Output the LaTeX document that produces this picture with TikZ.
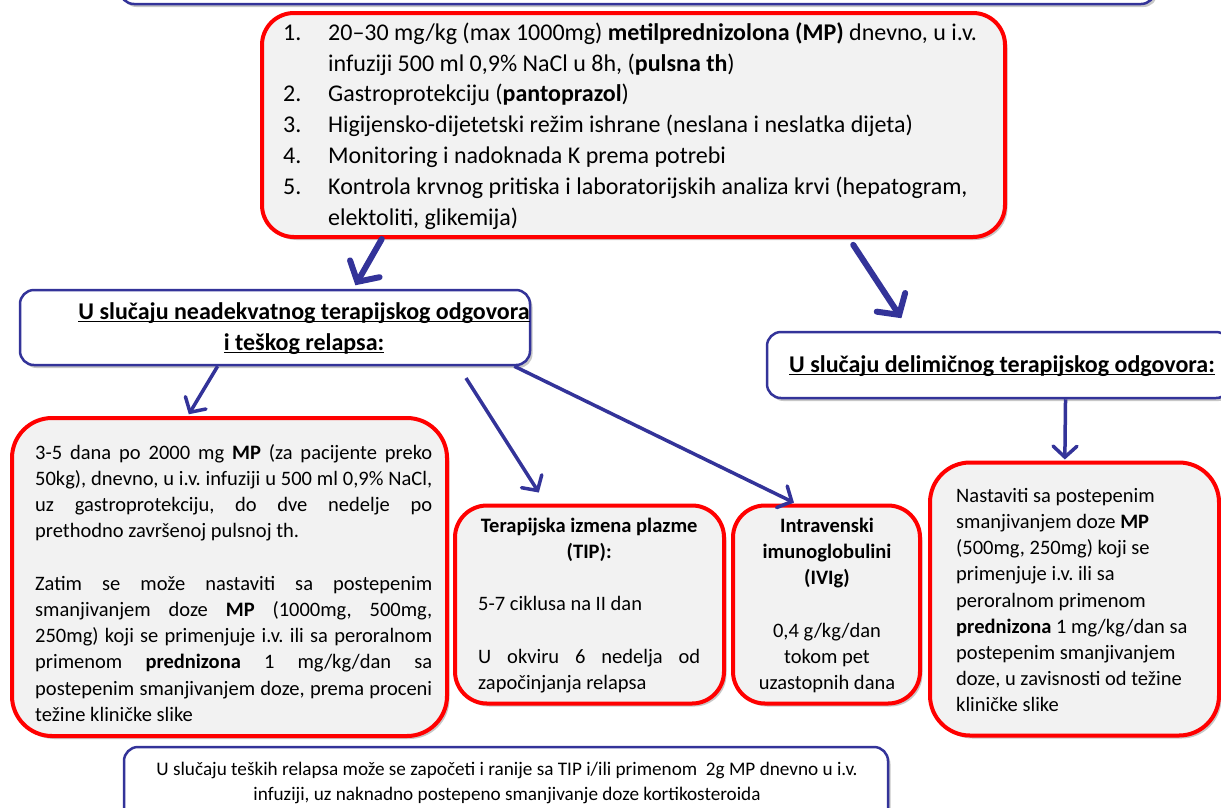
\documentclass[tikz,border=0pt]{standalone}
\usepackage{fontspec}
\setmainfont{Carlito}
\usetikzlibrary{arrows.meta,shadows,calc}
\definecolor{rd}{HTML}{FF0000}
\definecolor{bl}{HTML}{333399}
\definecolor{gf}{HTML}{F2F2F2}
\newsavebox\ulbox
\newcommand\ulx[1]{\leavevmode\sbox\ulbox{#1}\rlap{\rule[-3pt]{\wd\ulbox}{1.5pt}}\usebox\ulbox}
\newcommand\jl[1]{\makebox[\linewidth][s]{#1}\\}
\newcommand\fA{\fontsize{24}{30.8}\selectfont\frenchspacing}
\newcommand\fB{\fontsize{20.5}{26.2}\selectfont\frenchspacing}
\newcommand\fC{\fontsize{19.2}{25}\selectfont\frenchspacing}
\tikzset{
  shad/.style={drop shadow={shadow xshift=2.5pt, shadow yshift=-3pt, fill=black, opacity=0.22}},
  redbox/.style={draw=rd, line width=4pt, fill=gf, rounded corners=32pt, shad, inner sep=0pt},
  bluebox/.style={draw=bl, line width=2.5pt, fill=white, rounded corners=14pt, shad, inner sep=0pt},
  thickarr/.style={draw=bl, line width=6pt, line cap=round, -{Straight Barb[length=15pt,width=34pt,line cap=round]}},
  arr/.style={draw=bl, line width=3.5pt, -{Straight Barb[length=11pt,width=24pt,line cap=round]}},
  txt/.style={inner sep=0pt, anchor=north west, align=flush left},
}
\begin{document}
\begin{tikzpicture}[x=1pt,y=-1pt]
\useasboundingbox (0,0) rectangle (1221,807);
% boxes
\node[bluebox, minimum width=1035pt, minimum height=80pt] (hdr) at (637.5,-36) {};
\node[redbox, minimum width=743pt, minimum height=224pt] (top) at (633.5,125) {};
\node[bluebox, minimum width=510pt, minimum height=75pt] (lh) at (275,327.5) {};
\node[bluebox, minimum width=463pt, minimum height=66pt] (rh) at (998.5,365) {};
\node[redbox, rounded corners=40pt, minimum width=435pt, minimum height=318pt] (lb) at (229.5,577) {};
\node[redbox, minimum width=269pt, minimum height=198pt] (tb) at (589.5,604.5) {};
\node[redbox, minimum width=187pt, minimum height=198pt] (ib) at (826.5,604.5) {};
\node[redbox, rounded corners=40pt, minimum width=289pt, minimum height=273pt] (rb) at (1074.5,599) {};
\node[bluebox, minimum width=764pt, minimum height=76pt] (bb) at (506,785) {};
% texts
\node[txt, font=\fA, text width=720pt] (toptxt) at (283,18) {\rule{0pt}{22pt}%
\makebox[45pt][l]{1.}20–30 mg/kg (max 1000mg) \textbf{metilprednizolona (MP)} dnevno, u i.v.\\
\hspace*{45pt}infuziji 500 ml 0,9\% NaCl u 8h, (\textbf{pulsna th})\\
\makebox[45pt][l]{2.}Gastroprotekciju (\textbf{pantoprazol})\\
\makebox[45pt][l]{3.}Higijensko-dijetetski režim ishrane (neslana i neslatka dijeta)\\
\makebox[45pt][l]{4.}Monitoring i nadoknada K prema potrebi\\
\makebox[45pt][l]{5.}Kontrola krvnog pritiska i laboratorijskih analiza krvi (hepatogram,\\
\hspace*{45pt}elektoliti, glikemija)};
\node[inner sep=0pt, anchor=north, align=flush center, font=\fA, text width=480pt] (lhtxt) at (304,297) {\rule{0pt}{22pt}%
\ulx{\textbf{U slučaju neadekvatnog terapijskog odgovora}}\\
\ulx{\textbf{i teškog relapsa:}}};
\node[txt, font=\fA, text width=450pt] (rhtxt) at (789,350) {\rule{0pt}{22pt}%
\ulx{\textbf{U slučaju delimičnog terapijskog odgovora:}}};
\node[txt, font=\fB, text width=397pt] (lbtxt) at (35,440) {\rule{0pt}{19pt}%
\jl{3-5 dana po 2000 mg \textbf{MP} (za pacijente preko}
\jl{50kg), dnevno, u i.v. infuziji u 500 ml 0,9\% NaCl,}
\jl{uz gastroprotekciju, do dve nedelje po}
prethodno završenoj pulsnoj th.\\
\mbox{}\\
\jl{Zatim se može nastaviti sa postepenim}
\jl{smanjivanjem doze \textbf{MP} (1000mg, 500mg,}
\jl{250mg) koji se primenjuje i.v. ili sa peroralnom}
\jl{primenom \textbf{prednizona} 1 mg/kg/dan sa}
\jl{postepenim smanjivanjem doze, prema proceni}
težine kliničke slike};
\node[txt, font=\fB, text width=222pt] (tbtxt) at (478,513) {\rule{0pt}{19pt}%
\makebox[\linewidth][c]{\textbf{Terapijska izmena plazme}}\\
\makebox[\linewidth][c]{\textbf{(TIP):}}\\
\mbox{}\\
5-7 ciklusa na II dan\\
\mbox{}\\
\jl{U okviru 6 nedelja od}
započinjanja relapsa};
\node[inner sep=0pt, anchor=north, align=flush center, font=\fB, text width=170pt] (ibtxt) at (827,513) {\rule{0pt}{19pt}%
\textbf{Intravenski}\\
\textbf{imunoglobulini}\\
\textbf{(IVIg)}\\
\mbox{}\\
0,4 g/kg/dan\\
tokom pet\\
uzastopnih dana};
\node[txt, font=\fB, text width=262pt] (rbtxt) at (956,483) {\rule{0pt}{19pt}%
Nastaviti sa postepenim\\
smanjivanjem doze \textbf{MP}\\
(500mg, 250mg) koji se\\
primenjuje i.v. ili sa\\
peroralnom primenom\\
\textbf{prednizona} 1 mg/kg/dan sa\\
postepenim smanjivanjem\\
doze, u zavisnosti od težine\\
kliničke slike};
\node[inner sep=0pt, anchor=north, align=flush center, font=\fC, text width=760pt] (bbtxt) at (507,757) {\rule{0pt}{18pt}%
U slučaju teških relapsa može se započeti i ranije sa TIP i/ili primenom~ 2g MP dnevno u i.v.\\
infuziji, uz naknadno postepeno smanjivanje doze kortikosteroida};
% connectors
\draw[thickarr, shorten >=4pt] ($(top.south west)!0.163!(top.south east)$) -- ($(lh.north west)!0.653!(lh.north east)$);
\draw[thickarr, shorten <=7pt, shorten >=15pt] ($(top.south west)!0.789!(top.south east)$) -- ($(rh.north west)!0.309!(rh.north east)$);
\draw[arr, shorten >=2pt] ($(lh.south west)!0.388!(lh.south east)$) -- ($(lb.north west)!0.405!(lb.north east)$);
\draw[arr, shorten <=14pt, shorten >=13pt] ($(lh.south west)!0.858!(lh.south east)$) -- ($(tb.north west)!0.34!(tb.north east)$);
\draw[arr, shorten >=2pt] ($(lh.south west)!0.967!(lh.south east)$) -- ($(ib.north west)!0.339!(ib.north east)$);
\draw[arr, shorten >=1pt] ($(rh.south west)!0.644!(rh.south east)$) -- ($(rb.north west)!0.467!(rb.north east)$);
\end{tikzpicture}
\end{document}
